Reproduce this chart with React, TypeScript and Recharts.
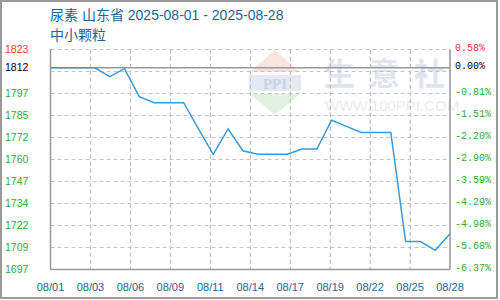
import React from 'react';
import { LineChart, Line, XAxis, YAxis, CartesianGrid, ReferenceLine } from 'recharts';

// one entry per calendar day
const dates = [
  '08/01', '08/02', '08/03', '08/04', '08/05', '08/06', '08/07', '08/08', '08/09', '08/10',
  '08/11', '08/12', '08/13', '08/14', '08/15', '08/16', '08/17', '08/18', '08/19', '08/20',
  '08/21', '08/22', '08/23', '08/24', '08/25', '08/26', '08/27', '08/28',
];
const prices = [
  1812.5, 1812.5, 1812.5, 1812.5, 1807.5, 1812, 1796, 1792.5, 1792.5, 1792.5,
  1777.5, 1763, 1777.5, 1765, 1763, 1763, 1763, 1766, 1766, 1782.5,
  1779, 1775.5, 1775.5, 1775.5, 1713, 1713, 1708, 1717.5,
];

const xTickLabels = ['08/01', '08/03', '08/06', '08/09', '08/11', '08/14', '08/17', '08/19', '08/22', '08/25', '08/28'];

const yMin = 1697;
const yMax = 1823;
const baseValue = 1812.5;
const leftTickLabels = ['1697', '1709', '1722', '1734', '1747', '1760', '1772', '1785', '1797', '1812', '1823'];
const rightTickLabels = ['-6.37%', '-5.68%', '-4.98%', '-4.29%', '-3.59%', '-2.90%', '-2.20%', '-1.51%', '-0.81%', '0.00%', '0.58%'];

const watermarkChars = ['生', '意', '社'];

const GREEN = '#33aa33';
const RED = '#ff3333';
const BLUE = '#1f6394';
const GRID = '#c4c4c4';

const MARGIN = { top: 49.5, right: 0, bottom: 0.5, left: 0.5 };
const Y_AXIS_W = 50;
const X_AXIS_H = 30;
const CHART_W = 500;
const CHART_H = 300;
const PLOT_W = CHART_W - MARGIN.left - MARGIN.right - 2 * Y_AXIS_W;
const PLOT_H = CHART_H - MARGIN.top - MARGIN.bottom - X_AXIS_H;

const chartData = dates.map((d, i) => ({ day: i, date: d, price: prices[i] }));
const lastDay = dates.length - 1;
const xTicks = xTickLabels.map((_, i) => (i * lastDay) / (xTickLabels.length - 1));

const gridValues = Array.from({ length: 11 }, (_, i) => yMin + ((yMax - yMin) * i) / 10);
// the base value label replaces the tick just below it
const yTicks = [...gridValues.slice(0, 9), baseValue, yMax];

function tickColor(v: number) {
  if (v === yMax) return RED;
  if (v === baseValue) return '#000';
  return GREEN;
}

const LeftTick = (props: any) => {
  const { y, payload } = props;
  const idx = yTicks.indexOf(payload.value);
  return (
    <text x={5} y={y} dy={-1} dominantBaseline="central" fontSize={10.5}
      fontFamily="Liberation Sans, Arial, sans-serif" fill={tickColor(payload.value)}>
      {leftTickLabels[idx]}
    </text>
  );
};

const RightTick = (props: any) => {
  const { y, payload } = props;
  const idx = yTicks.indexOf(payload.value);
  return (
    <text x={455} y={y} dy={-1} dominantBaseline="central" fontSize={10}
      fontFamily="Liberation Mono, monospace" fill={tickColor(payload.value)}>
      {rightTickLabels[idx]}
    </text>
  );
};

const BottomTick = (props: any) => {
  const { x, index } = props;
  return (
    <text x={x} y={291} textAnchor="middle" fontSize={11}
      fontFamily="Liberation Sans, Arial, sans-serif" fill={BLUE}>
      {xTickLabels[index]}
    </text>
  );
};

// dashed vertical grid behind the chart, one per inner x tick
function VerticalGrid() {
  const left = MARGIN.left + Y_AXIS_W;
  return (
    <>
      {xTicks.slice(1, -1).map((t) => (
        <div key={t} style={{
          position: 'absolute', left: Math.floor(left + (t / lastDay) * PLOT_W), top: MARGIN.top + 0.5,
          width: 1, height: PLOT_H,
          background: `repeating-linear-gradient(to bottom, ${GRID} 0px, ${GRID} 4px, transparent 4px, transparent 7px)`,
        }} />
      ))}
    </>
  );
}

function Watermark() {
  return (
    <>
      <svg width={60} height={70} style={{ position: 'absolute', left: 245, top: 48 }}>
        <polygon points="30,2 55,24 5,24" fill="#fbe3e0" />
        <rect x={4} y={27} width={52} height={16} fill="#e4e9f3" />
        <text x={30} y={41} textAnchor="middle" fontSize={15} fontWeight="bold"
          fontFamily="Liberation Serif, serif" fill="#c9d3e8">PPI</text>
        <polygon points="5,46 55,46 30,67" fill="#e0f1e2" />
      </svg>
      {watermarkChars.map((c, i) => (
        <div key={c} style={{
          position: 'absolute', left: 324 + i * 45, top: 52, fontSize: 31,
          color: '#dfe4ee', fontFamily: 'Noto Sans CJK SC', fontWeight: 'bold', lineHeight: '40px',
        }}>{c}</div>
      ))}
      <div style={{
        position: 'absolute', left: 325, top: 97, fontSize: 15, color: '#ebebeb',
        fontFamily: 'Liberation Sans, Arial, sans-serif', lineHeight: '18px',
      }}>WWW.100PPI.COM</div>
    </>
  );
}

export default function App() {
  return (
    <div style={{ position: 'absolute', left: 0, top: 0, width: 500, height: 300, background: '#fff' }}>
      <div style={{
        position: 'absolute', left: 0, top: 0, width: 498, height: 299,
        border: '2px solid #9a9a9a', boxSizing: 'border-box',
      }} />
      <div style={{
        position: 'absolute', left: 50, top: 5, color: BLUE, fontSize: 14, lineHeight: '20px',
        fontFamily: 'Liberation Sans, Arial, "Noto Sans CJK SC", sans-serif', whiteSpace: 'nowrap',
      }}>
        <div>尿素 山东省 2025-08-01 - 2025-08-28</div>
        <div>中小颗粒</div>
      </div>
      <Watermark />
      <VerticalGrid />
      <div style={{ position: 'absolute', left: 0, top: 0 }}>
        <LineChart width={CHART_W} height={CHART_H} data={chartData} margin={MARGIN}>
          <CartesianGrid yAxisId="left" stroke={GRID} strokeDasharray="4 3"
            horizontalValues={gridValues} verticalValues={xTicks} />
          <XAxis dataKey="day" type="number" domain={[0, lastDay]} ticks={xTicks} height={X_AXIS_H}
            tick={<BottomTick />} tickLine={false} axisLine={{ stroke: '#999', strokeWidth: 1.5 }}
            interval={0} />
          <YAxis yAxisId="left" domain={[yMin, yMax]} ticks={yTicks} width={Y_AXIS_W} tick={<LeftTick />}
            tickLine={false} axisLine={{ stroke: '#999', strokeWidth: 1.5 }} interval={0} />
          <YAxis yAxisId="right" orientation="right" domain={[yMin, yMax]} ticks={yTicks} width={Y_AXIS_W}
            tick={<RightTick />} tickLine={false} axisLine={{ stroke: '#999', strokeWidth: 1.5 }}
            interval={0} />
          <ReferenceLine yAxisId="left" y={baseValue} stroke="#999" strokeWidth={1.5} />
          <Line yAxisId="right" type="linear" dataKey="price" stroke="none" dot={false}
            isAnimationActive={false} />
          <Line yAxisId="left" type="linear" dataKey="price" stroke="#3a9ad9" strokeWidth={1.5}
            dot={false} isAnimationActive={false} />
        </LineChart>
      </div>
    </div>
  );
}
